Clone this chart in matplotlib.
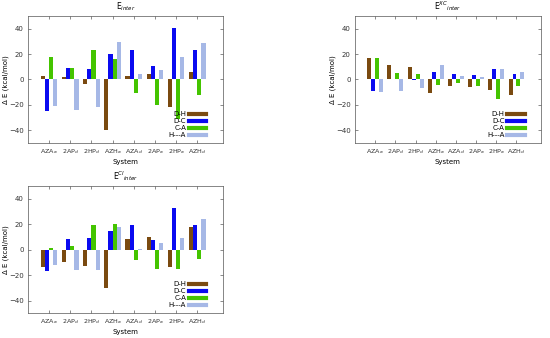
import numpy as np
import matplotlib
matplotlib.use('Agg')
import matplotlib.pyplot as plt
from matplotlib.lines import Line2D

systems = ['AZA$_a$', '2AP$_d$', '2HP$_d$', 'AZH$_a$',
           'AZA$_d$', '2AP$_a$', '2HP$_a$', 'AZH$_d$']
series = ['D-H', 'D-C', 'C-A', 'H---A']
colors = ['#7a4a10', '#0a0af0', '#44c400', '#a6b8e6']

# E_inter
e_inter_dh = [3, 2, -3.5, -40, 3, 4, -22, 6]
e_inter_dc = [-25, 9, 8.5, 20, 23.5, 11, 40.5, 23.5]
e_inter_ca = [18, 9, 23.5, 16, -11, -20, -31, -12]
e_inter_ha = [-21, -24, -22, 29.5, 4, 7.5, 18, 29]

# E^XC_inter
e_xc_dh = [17, 11.5, 10, -10.5, -5.5, -6, -8.5, -12]
e_xc_dc = [-9, 0.5, -0.5, 5.5, 4, 3.5, 8, 4.5]
e_xc_ca = [17, 5, 4, -4.5, -3, -5.5, -15, -5]
e_xc_ha = [-9.5, -9, -6.5, 11.5, 3, 2, 8.5, 5.5]

# E^Cl_inter
e_cl_dh = [-13.5, -9.5, -13, -30, 8, 10, -13.5, 17.5]
e_cl_dc = [-16.5, 8, 9, 14.5, 19.5, 7.5, 32.5, 19]
e_cl_ca = [1, 3, 19, 20.5, -8, -15, -15.5, -7]
e_cl_ha = [-12, -16, -16, 18, 0.5, 5, 9.5, 24]


def histplot(ax, data, title):
    """clustered bars like gnuplot histogram"""
    x = np.arange(len(systems))
    w = 0.197
    for i, vals in enumerate(data):
        ax.bar(x + (i - 1.5) * w, vals, width=w, color=colors[i], linewidth=0)
    ax.set_xlim(-1.0, 8.2)
    ax.set_ylim(-50, 50)
    ax.set_yticks([-40, -20, 0, 20, 40])
    ax.set_xticks(x)
    ax.set_xticklabels(systems)
    ax.tick_params(direction='in', labelsize=5, length=2.5, width=0.4,
                   top=True, right=True, pad=3, colors='#333333')
    ax.tick_params(axis='x', labelsize=4.6)
    for s in ax.spines.values():
        s.set_linewidth(0.5)
        s.set_color('#555555')
    ax.set_title(title, fontsize=5.5, pad=5)
    ax.set_xlabel('System', fontsize=5, labelpad=2)
    ax.set_ylabel('\u0394 E (kcal/mol)', fontsize=5, labelpad=0)
    handles = [Line2D([], [], color=c, lw=3) for c in colors]
    ax.legend(handles, series, loc='lower right', markerfirst=False,
              frameon=False, fontsize=5, handlelength=2.5,
              labelspacing=0.15, handletextpad=0.4, borderaxespad=0.3,
              bbox_to_anchor=(0.94, 0.0))


fig = plt.figure(figsize=(5.5, 3.38), dpi=100)
ax1 = fig.add_axes([0.0509, 0.577, 0.354, 0.3757])
ax2 = fig.add_axes([0.6455, 0.577, 0.3376, 0.3757])
ax3 = fig.add_axes([0.0509, 0.073, 0.354, 0.3766])

histplot(ax1, [e_inter_dh, e_inter_dc, e_inter_ca, e_inter_ha],
         'E$_{inter}$')
histplot(ax2, [e_xc_dh, e_xc_dc, e_xc_ca, e_xc_ha],
         'E$^{XC}$$_{inter}$')
histplot(ax3, [e_cl_dh, e_cl_dc, e_cl_ca, e_cl_ha],
         'E$^{Cl}$$_{inter}$')

fig.savefig('out.png', dpi=100)
